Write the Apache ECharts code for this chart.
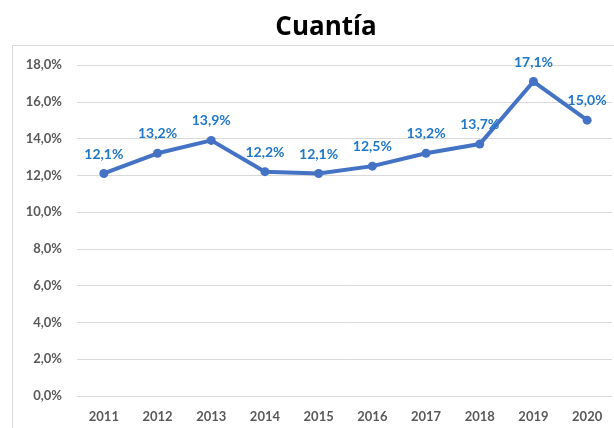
<!DOCTYPE html>
<html>
<head>
<meta charset="utf-8">
<script src="https://cdn.jsdelivr.net/npm/echarts@6/dist/echarts.min.js"></script>
<style>
html,body{margin:0;padding:0;background:#fff;}
#c{width:614px;height:428px;}
</style>
</head>
<body>
<div id="c"></div>
<script>
const titleText = 'Cuantía';
const years = ['2011','2012','2013','2014','2015','2016','2017','2018','2019','2020'];
const cuantia = [12.1, 13.2, 13.9, 12.2, 12.1, 12.5, 13.2, 13.7, 17.1, 15.0];
const yMin = 0, yMax = 18, yStep = 2;

const fmt = v => v.toFixed(1).replace('.', ',') + '%';
const font = 'Lato, "Open Sans", sans-serif';

const chart = echarts.init(document.getElementById('c'), null, {renderer: 'canvas'});
chart.setOption({
  backgroundColor: '#fff',
  animation: false,
  graphic: [
    {
      type: 'rect',
      shape: {x: 12.5, y: 45.5, width: 640, height: 420},
      style: {fill: 'none', stroke: '#d9d9d9', lineWidth: 1},
      silent: true, z: -1
    },
    {
      type: 'text',
      x: 326, y: 28,
      style: {
        text: titleText, fill: '#000',
        font: 'bold 26px "Open Sans", Lato, sans-serif',
        textAlign: 'center', textVerticalAlign: 'middle'
      },
      silent: true
    }
  ],
  grid: [
    {left: 77, width: 535, top: 65, bottom: 32},
    {left: 77, width: 543, top: 65, bottom: 32}
  ],
  xAxis: [
    {gridIndex: 0, type: 'value', show: false, min: 0, max: 1},
    {
      gridIndex: 1, type: 'category', data: years, boundaryGap: true,
      axisLine: {show: false}, axisTick: {show: false},
      axisLabel: {margin: 14, color: '#595959', fontFamily: font, fontWeight: 'bold', fontSize: 13}
    }
  ],
  yAxis: [
    {
      gridIndex: 0, type: 'value', min: yMin, max: yMax, interval: yStep,
      axisLine: {show: false}, axisTick: {show: false},
      axisLabel: {margin: 15, color: '#595959', fontFamily: font, fontWeight: 'bold', fontSize: 13, formatter: v => fmt(v)},
      splitLine: {lineStyle: {color: '#d9d9d9', width: 1}}
    },
    {gridIndex: 1, type: 'value', min: yMin, max: yMax, interval: yStep, show: false, splitLine: {show: false}}
  ],
  series: [{
    type: 'line',
    xAxisIndex: 1, yAxisIndex: 1,
    data: cuantia,
    symbol: 'circle', symbolSize: 9,
    lineStyle: {color: '#4472C4', width: 4},
    itemStyle: {color: '#4472C4'},
    label: {
      show: true, position: 'top', distance: 8,
      color: '#1F77C9', fontFamily: font, fontWeight: 'bold', fontSize: 14,
      formatter: p => fmt(p.value)
    },
    clip: false
  }]
});
</script>
</body>
</html>
